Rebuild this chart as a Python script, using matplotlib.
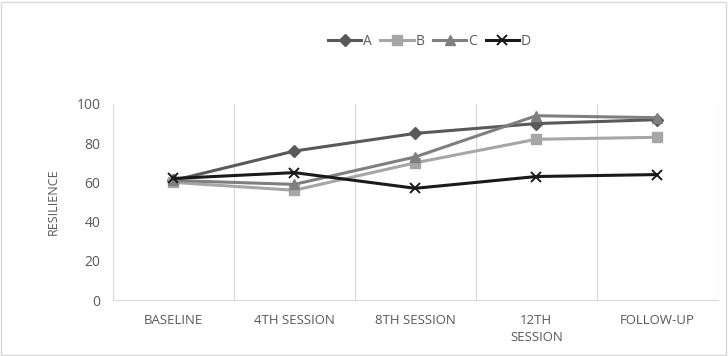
import matplotlib.pyplot as plt
from matplotlib.patches import Rectangle

plt.rcParams["font.family"] = ["Open Sans", "DejaVu Sans"]

# data
sessions = ["BASELINE", "4TH SESSION", "8TH SESSION", "12TH\nSESSION", "FOLLOW-UP"]
series_a = [61, 76, 85, 90, 92]
series_b = [60, 56, 70, 82, 83]
series_c = [61, 59, 73, 94, 93]
series_d = [62, 65, 57, 63, 64]
y_ticks = [0, 20, 40, 60, 80, 100]

LINE_WIDTH = 2.2
TEXT_COLOR = "#595959"
styles = [
    ("A", series_a, "#595959", "D", 6),
    ("B", series_b, "#a6a6a6", "s", 7),
    ("C", series_c, "#7f7f7f", "^", 7),
    ("D", series_d, "#1a1a1a", "x", 7),
]

fig = plt.figure(figsize=(7.28, 3.56), dpi=100)
ax = fig.add_axes([0.155, 0.157, 0.831, 0.551])

x = list(range(len(sessions)))
for name, vals, col, mk, ms in styles:
    ax.plot(x, vals, color=col, linewidth=LINE_WIDTH, marker=mk, markersize=ms,
            markeredgewidth=1.4 if mk == "x" else 1, label=name)

# vertical gridlines at category boundaries
for b in range(len(sessions) + 1):
    ax.axvline(b - 0.5, color="#d9d9d9", linewidth=0.9, zorder=0)

ax.set_xlim(-0.5, len(sessions) - 0.5)
ax.set_ylim(0, 100)
ax.set_yticks(y_ticks)
ax.set_xticks(x)
ax.set_xticklabels(sessions, fontsize=9.5, color=TEXT_COLOR, linespacing=1.4)
ax.tick_params(axis="y", labelsize=10, colors=TEXT_COLOR, length=0, pad=9)
ax.tick_params(axis="x", length=0, pad=10)
for s in ["top", "right", "left"]:
    ax.spines[s].set_visible(False)
ax.spines["bottom"].set_color("#d9d9d9")
ax.set_ylabel("RESILIENCE", fontsize=9, color=TEXT_COLOR, labelpad=12)

ax.legend(loc="center", bbox_to_anchor=(0.59, 0.883), bbox_transform=fig.transFigure,
          ncol=4, frameon=False, fontsize=10, handlelength=2.4, handletextpad=0.15,
          columnspacing=0.6, labelcolor=TEXT_COLOR)

fig.patches.append(Rectangle((0.002, 0.003), 0.995, 0.992, transform=fig.transFigure,
                             fill=False, edgecolor="#d9d9d9", linewidth=1))

fig.savefig("out.png", dpi=100)
